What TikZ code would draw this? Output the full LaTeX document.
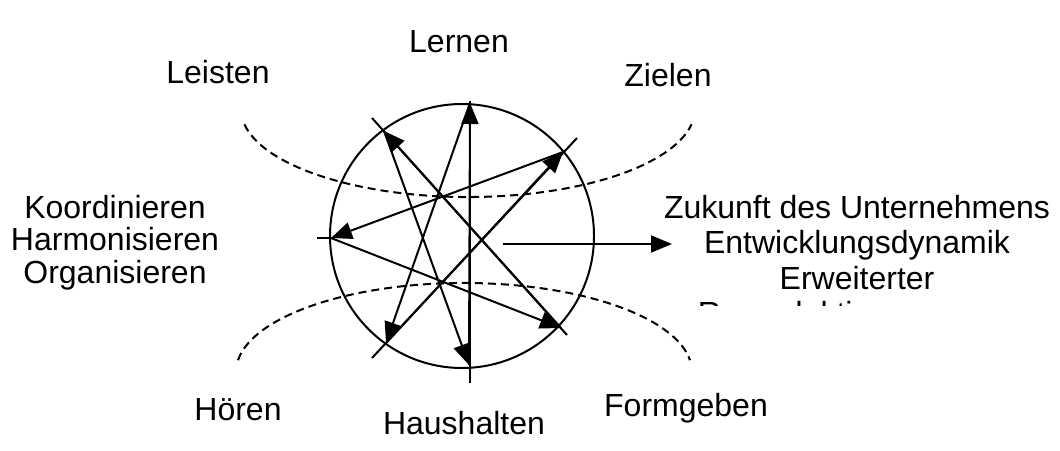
\documentclass[tikz,border=0pt]{standalone}
\usepackage{fontspec}
\setmainfont{Liberation Sans}
\usetikzlibrary{arrows.meta}

\begin{document}
\begin{tikzpicture}[x=0.5pt,y=-0.5pt,line width=1pt,
  tip/.style={-{Triangle[length=10.5pt,width=8.5pt]}},
  lbl/.style={font=\fontsize{16}{16.25}\selectfont,inner sep=0pt,align=center}]
\useasboundingbox (0,0) rectangle (1060,450);
\node[circle,draw,minimum size=132pt,inner sep=0pt] (ring) at (462,236) {};
\coordinate (aN) at (470,101); \coordinate (aS) at (470,383);
\coordinate (aNW) at (372,118); \coordinate (aSE) at (567,335);
\coordinate (aNE) at (577,138); \coordinate (aSW) at (372,358);
\coordinate (aW) at (317,238);
\coordinate (pN) at (470,103); \coordinate (pS) at (469,365);
\coordinate (pNW) at (384,131); \coordinate (pSE) at (561,328);
\coordinate (pNE) at (563,152); \coordinate (pSW) at (386,343);
\coordinate (pW) at (331,238);
\draw (aN) -- (aS);
\draw (aNW) -- (aSE);
\draw (aNE) -- (aSW);
\draw (aW) -- (pW);
\draw[tip] (pS) -- (pN);
\draw[tip] (pN) -- (pSW);
\draw[tip] (pSW) -- (pNE);
\draw[tip] (pNE) -- (pW);
\draw[tip] (pW) -- (pSE);
\draw[tip] (pSE) -- (pNW);
\draw[tip] (pNW) -- (pS);
\coordinate (out) at (503,244); \coordinate (outEnd) at (672,244);
\draw[tip] (out) -- (outEnd);
\draw[dash pattern=on 4pt off 2.5pt] (244.4,124.3)
  arc[start angle=170,end angle=10,x radius=227,y radius=88];
\draw[dash pattern=on 4pt off 2.5pt] (238,360.2)
  arc[start angle=187.6,end angle=352.4,x radius=228,y radius=89];
\node[lbl,anchor=base] (learn) at (459,52) {Lernen};
\node[lbl,anchor=base] (perform) at (218,83) {Leisten};
\node[lbl,anchor=base] (aim) at (668,86) {Zielen};
\node[lbl,anchor=north] (coord) at (115,194) {Koordinieren\\Harmonisieren\\Organisieren};
\node[lbl,anchor=base] (hear) at (238,420) {Hören};
\node[lbl,anchor=base] (budget) at (464,434) {Haushalten};
\node[lbl,anchor=base] (form) at (686,416) {Formgeben};
\begin{scope}
\clip (600,180) rectangle (1060,305);
\node[lbl,anchor=north,font=\fontsize{16}{17.75}\selectfont] (future) at (857,194)
  {Zukunft des Unternehmens\\Entwicklungsdynamik\\Erweiterter\\Reproduktionsprozess};
\end{scope}
\end{tikzpicture}
\end{document}
